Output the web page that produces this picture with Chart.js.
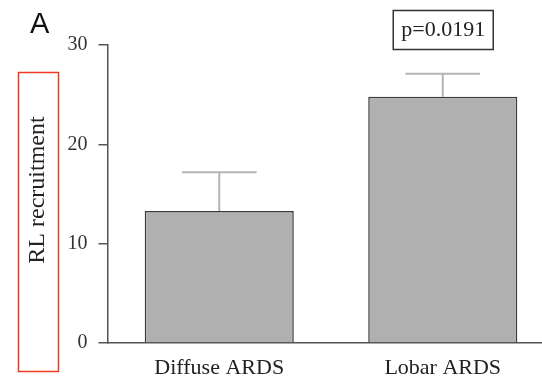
<!DOCTYPE html>
<html>
<head>
<meta charset="utf-8">
<script src="https://cdn.jsdelivr.net/npm/chart.js@4/dist/chart.umd.min.js"></script>
<style>
  html, body { margin: 0; padding: 0; background: #fff; overflow: hidden; }
  #wrap { position: relative; width: 556px; height: 378px; }
</style>
</head>
<body>
<div id="wrap"><canvas id="c" width="556" height="378"></canvas></div>
<script>
// Recruitment in the right lung by ARDS pattern (mean with upper SD whisker)
const categories = ['Diffuse ARDS', 'Lobar ARDS'];
const meanValues = [13.3, 24.8];
const sdValues = [3.9, 2.3];
const yTicks = [0, 10, 20, 30];
const pValueText = 'p=0.0191';
const panelLabel = 'A';
const yTitle = 'RL recruitment';

const SERIF = '"Liberation Serif", "DejaVu Serif", serif';

// Draws the upper whisker of each bar
const errorBars = {
  id: 'errorBars',
  afterDatasetsDraw(chart) {
    const ctx = chart.ctx;
    const meta = chart.getDatasetMeta(0);
    const y = chart.scales.y;
    ctx.save();
    ctx.strokeStyle = '#b4b4b4';
    ctx.lineWidth = 2;
    meta.data.forEach((bar, i) => {
      const top = y.getPixelForValue(meanValues[i] + sdValues[i]);
      const half = bar.width / 4;
      ctx.beginPath();
      ctx.moveTo(bar.x, bar.y);
      ctx.lineTo(bar.x, top);
      ctx.moveTo(bar.x - half, top);
      ctx.lineTo(bar.x + half, top);
      ctx.stroke();
    });
    ctx.restore();
  }
};

// Panel letter, framed axis title and the p-value box
const annotations = {
  id: 'annotations',
  afterDraw(chart) {
    const ctx = chart.ctx;
    ctx.save();
    ctx.fillStyle = '#111';
    ctx.font = '29px "Liberation Sans", Arial, sans-serif';
    ctx.textAlign = 'left';
    ctx.textBaseline = 'alphabetic';
    ctx.fillText(panelLabel, 30, 33);

    // axis title, rotated
    ctx.save();
    ctx.translate(38, 190);
    ctx.rotate(-Math.PI / 2);
    ctx.font = '24px ' + SERIF;
    ctx.fillStyle = '#222';
    ctx.textAlign = 'center';
    ctx.textBaseline = 'middle';
    ctx.fillText(yTitle, 0, 0);
    ctx.restore();

    ctx.strokeStyle = '#ee3b22';
    ctx.lineWidth = 1.5;
    ctx.strokeRect(18.5, 72.5, 40, 299);

    // p-value box above the second bar
    const bar = chart.getDatasetMeta(0).data[1];
    ctx.strokeStyle = '#333';
    ctx.lineWidth = 1.5;
    ctx.strokeRect(bar.x - 49.5, 10.5, 100, 39);
    ctx.font = '22px ' + SERIF;
    ctx.fillStyle = '#222';
    ctx.textAlign = 'center';
    ctx.textBaseline = 'middle';
    ctx.fillText(pValueText, bar.x + 0.5, 30);
    ctx.restore();
  }
};

new Chart(document.getElementById('c'), {
  type: 'bar',
  data: {
    labels: categories,
    datasets: [{
      data: meanValues,
      backgroundColor: '#b0b0b0',
      borderColor: '#3a3a3a',
      borderWidth: 1.5,
      borderSkipped: 'bottom',
      barPercentage: 0.667,
      categoryPercentage: 1
    }]
  },
  options: {
    responsive: false,
    animation: false,
    devicePixelRatio: 1,
    layout: { padding: { top: 45, left: 0, right: 1.5, bottom: 0 } },
    plugins: { legend: { display: false }, tooltip: { enabled: false } },
    scales: {
      x: {
        grid: { display: false },
        border: { display: true, color: '#555', width: 1.5 },
        ticks: { color: '#222', font: { family: SERIF, size: 22 }, padding: 4 },
        afterFit(scale) { scale.height = 35; }
      },
      y: {
        min: 0,
        max: 30,
        afterBuildTicks(scale) { scale.ticks = yTicks.map(v => ({ value: v })); },
        grid: { display: true, drawOnChartArea: false, drawTicks: true, tickLength: 9, color: '#555', lineWidth: 1.5 },
        border: { display: true, color: '#555', width: 1.5 },
        ticks: { color: '#333', font: { family: SERIF, size: 20 }, padding: 11 },
        afterFit(scale) { scale.width = 107.5; }
      }
    }
  },
  plugins: [errorBars, annotations]
});
</script>
</body>
</html>
